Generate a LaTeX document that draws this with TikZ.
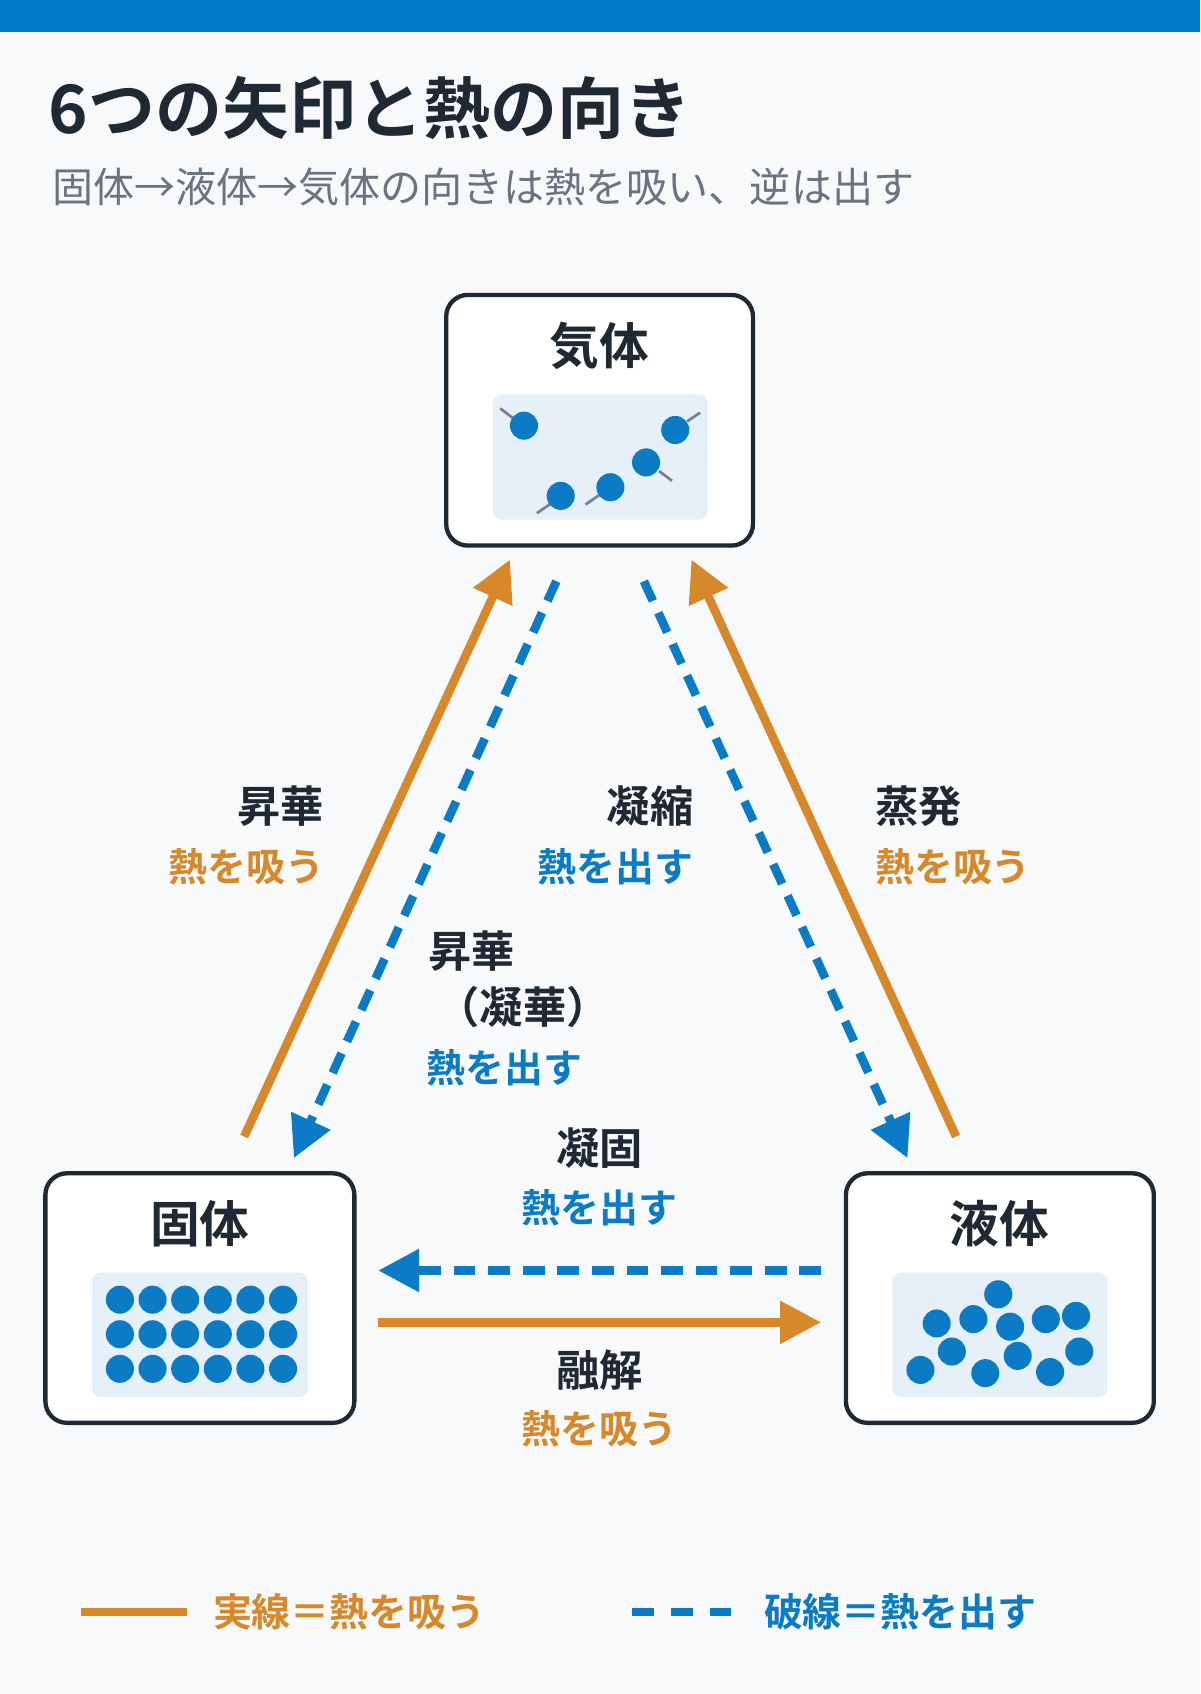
\documentclass[tikz,border=0pt]{standalone}
\usepackage{fontspec}
\setmainfont{Noto Sans CJK JP}
\newfontfamily\jpb{Noto Sans CJK JP}[BoldFont={* Bold}]
\usetikzlibrary{arrows.meta}
\definecolor{bar}{RGB}{0,122,198}
\definecolor{org}{RGB}{214,136,42}
\definecolor{blu}{RGB}{10,123,196}
\definecolor{bg}{RGB}{247,249,251}
\definecolor{pan}{RGB}{230,240,249}
\definecolor{dk}{RGB}{31,41,51}
\definecolor{gr}{RGB}{107,114,128}
\begin{document}
\begin{tikzpicture}[x=1pt,y=-1pt,
 box/.style={draw=dk,line width=4pt,rounded corners=20pt,fill=white},
 panel/.style={fill=pan,rounded corners=8pt},
 dot/.style={fill=blu,circle,inner sep=0pt,minimum size=26pt},
 trail/.style={draw=gr!90,line width=2.5pt},
 solidar/.style={draw=org,line width=8pt,-{Triangle[length=38pt,width=38pt]}},
 dashar/.style={draw=blu,line width=8pt,dash pattern=on 20pt off 12pt,-{Triangle[length=38pt,width=38pt]}},
 bl/.style={font=\jpb\bfseries\fontsize{40}{44}\selectfont,text=dk,inner sep=0pt},
 hot/.style={font=\jpb\bfseries\fontsize{36}{40}\selectfont,text=org,inner sep=0pt},
 cold/.style={font=\jpb\bfseries\fontsize{36}{40}\selectfont,text=blu,inner sep=0pt},
 bt/.style={font=\jpb\bfseries\fontsize{46}{50}\selectfont,text=dk,inner sep=0pt}]
\useasboundingbox (0,0) rectangle (1111,1568);
\fill[bg] (0,0) rectangle (1111,1568);
\fill[bar] (0,0) rectangle (1111,30);
\node[anchor=west,inner sep=0pt,font=\jpb\bfseries\fontsize{62}{66}\selectfont,text=dk] (title) at (45,100) {6つの矢印と熱の向き};
\node[anchor=west,inner sep=0pt,font=\jpb\fontsize{38}{42}\selectfont,text=gr] (sub) at (48,173) {固体→液体→気体の向きは熱を吸い、逆は出す};
% boxes
\draw[box] (413,273) rectangle (697,505);
\fill[panel] (456,365) rectangle (655,481);
\node[bt] (gas) at (555,320) {気体};
\draw[box] (42,1086) rectangle (328,1317);
\fill[panel] (85,1178) rectangle (285,1293);
\node[bt] (sol) at (185,1133) {固体};
\draw[box] (783,1086) rectangle (1068,1317);
\fill[panel] (826,1178) rectangle (1025,1293);
\node[bt] (liq) at (925,1133) {液体};
% gas particles
\draw[trail] (463,378)--(476,388); \draw[trail] (497,475)--(510,466);
\draw[trail] (542,467)--(555,458); \draw[trail] (610,436)--(622,445);
\draw[trail] (636,390)--(648,382);
\foreach \p [count=\i] in {(485,394),(519,459),(565,451),(598,428),(625,398)} \node[dot] (g\i) at \p {};
% solid particles
\foreach \r in {0,1,2} \foreach \c in {0,...,5} \node[dot] (s\r\c) at (111+30.2*\c,1203+32*\r) {};
% liquid particles
\foreach \p [count=\i] in {(924,1198),(867,1225),(901,1221),(935,1228),(968,1221),(996,1218),(881,1251),(942,1255),(999,1251),(852,1268),(912,1271),(972,1270)} \node[dot] (l\i) at \p {};
% arrow endpoints
\coordinate (a1s) at (226,1052); \coordinate (a1e) at (472,518);
\coordinate (a2s) at (515,538); \coordinate (a2e) at (272,1072);
\coordinate (a3s) at (596,538); \coordinate (a3e) at (840,1072);
\coordinate (a4s) at (885,1052); \coordinate (a4e) at (640,518);
\coordinate (a5s) at (760,1176); \coordinate (a5e) at (350,1176);
\coordinate (a6s) at (350,1224); \coordinate (a6e) at (760,1224);
\draw[solidar] (a1s)--(a1e);
\draw[dashar] (a2s)--(a2e);
\draw[dashar] (a3s)--(a3e);
\draw[solidar] (a4s)--(a4e);
\draw[dashar] (a5s)--(a5e);
\draw[solidar] (a6s)--(a6e);
% labels
\node[bl,anchor=east] (t1) at (300,746) {昇華};
\node[hot,anchor=east] (h1) at (300,802) {熱を吸う};
\node[bl,anchor=east] (t2) at (642,746) {凝縮};
\node[cold,anchor=east] (h2) at (642,802) {熱を出す};
\node[bl,anchor=west] (t3) at (810,746) {蒸発};
\node[hot,anchor=west] (h3) at (810,802) {熱を吸う};
\node[bl,anchor=west] (t4) at (396,880) {昇華};
\node[bl,anchor=west] (t4b) at (404,932) {（凝華）};
\node[cold,anchor=west] (h4) at (395,988) {熱を出す};
\node[bl] (t5) at (555,1063) {凝固};
\node[cold] (h5) at (555,1118) {熱を出す};
\node[bl] (t6) at (555,1268) {融解};
\node[hot] (h6) at (555,1322) {熱を吸う};
% legend
\coordinate (lg1a) at (75,1492); \coordinate (lg1b) at (173,1492);
\coordinate (lg2a) at (585,1492); \coordinate (lg2b) at (677,1492);
\draw[org,line width=8pt] (lg1a)--(lg1b);
\draw[blu,line width=8pt,dash pattern=on 20pt off 16pt] (lg2a)--(lg2b);
\node[hot,anchor=west] (lgt1) at (197,1492) {実線＝熱を吸う};
\node[cold,anchor=west] (lgt2) at (707,1492) {破線＝熱を出す};
\end{tikzpicture}
\end{document}
